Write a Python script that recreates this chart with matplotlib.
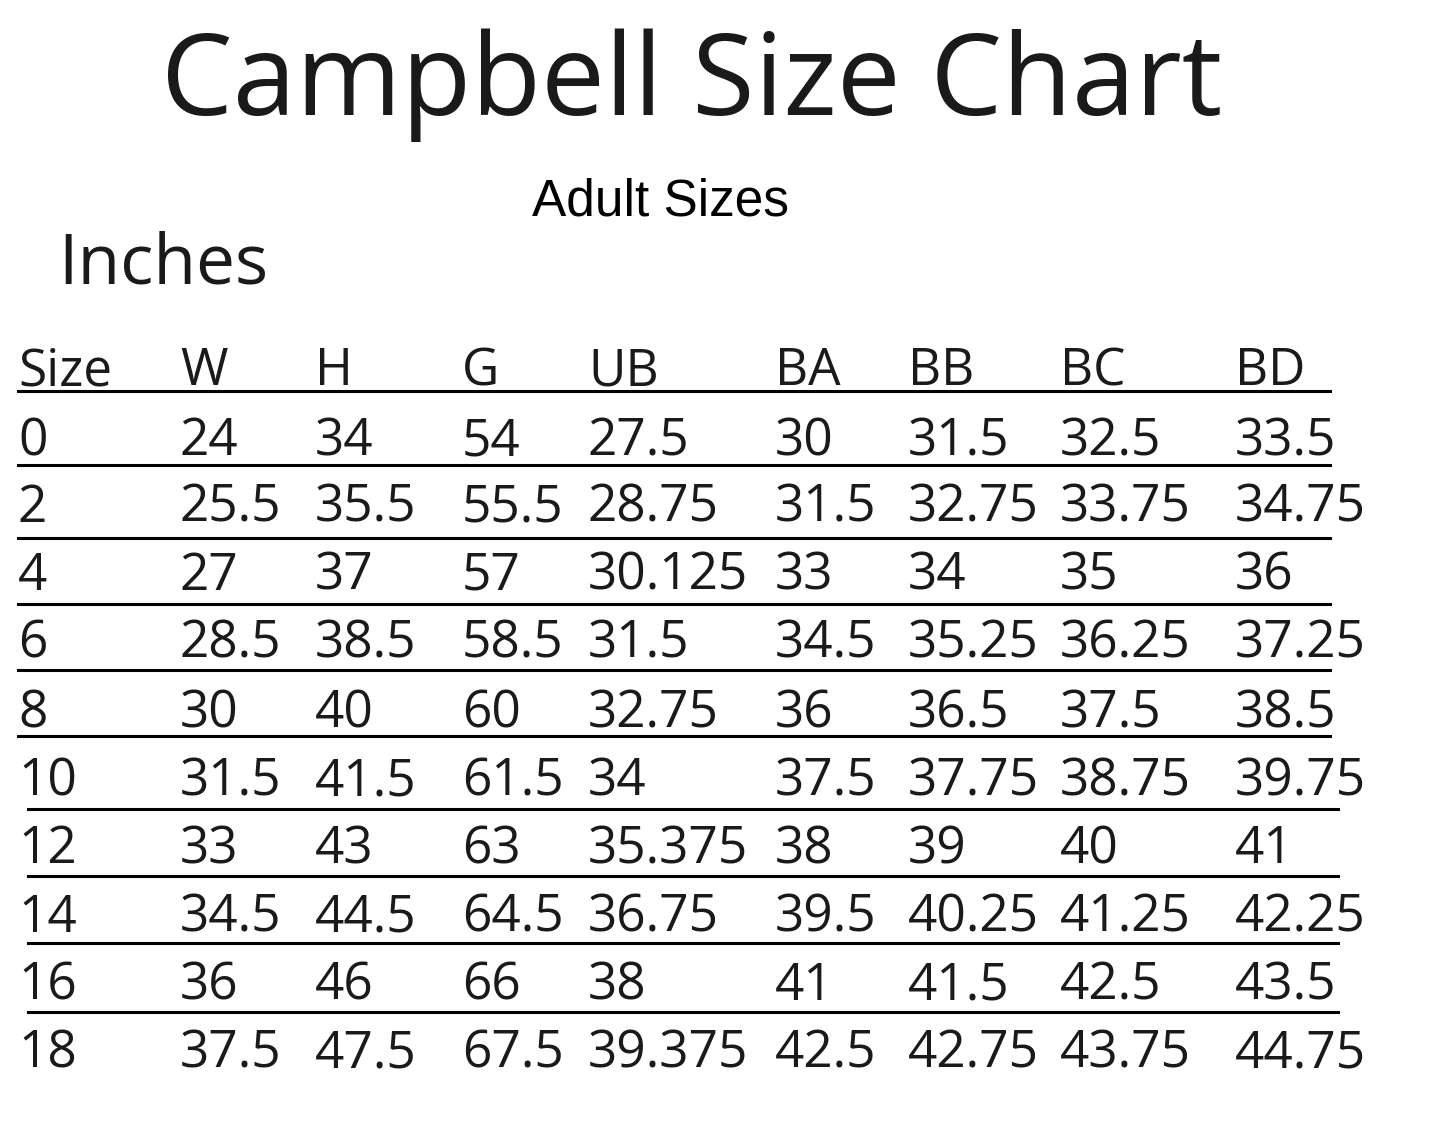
import matplotlib
matplotlib.use('Agg')
import matplotlib.pyplot as plt

columns = ['Size', 'W', 'H', 'G', 'UB', 'BA', 'BB', 'BC', 'BD']
rows = [
    ['0', '24', '34', '54', '27.5', '30', '31.5', '32.5', '33.5'],
    ['2', '25.5', '35.5', '55.5', '28.75', '31.5', '32.75', '33.75', '34.75'],
    ['4', '27', '37', '57', '30.125', '33', '34', '35', '36'],
    ['6', '28.5', '38.5', '58.5', '31.5', '34.5', '35.25', '36.25', '37.25'],
    ['8', '30', '40', '60', '32.75', '36', '36.5', '37.5', '38.5'],
    ['10', '31.5', '41.5', '61.5', '34', '37.5', '37.75', '38.75', '39.75'],
    ['12', '33', '43', '63', '35.375', '38', '39', '40', '41'],
    ['14', '34.5', '44.5', '64.5', '36.75', '39.5', '40.25', '41.25', '42.25'],
    ['16', '36', '46', '66', '38', '41', '41.5', '42.5', '43.5'],
    ['18', '37.5', '47.5', '67.5', '39.375', '42.5', '42.75', '43.75', '44.75'],
]

# layout in pixels
col_x = [18, 180, 315, 462, 588, 775, 908, 1060, 1235]
header_y = 385
row_y = [455, 522, 590, 657, 727, 795, 863, 932, 1000, 1068]
line_y = [391, 465, 538, 604, 670, 736, 809, 876, 943, 1012]

fig = plt.figure(figsize=(14.45, 11.4), dpi=100)
ax = fig.add_axes([0, 0, 1, 1])
ax.set_xlim(0, 1445)
ax.set_ylim(1140, 0)
ax.axis('off')

font = 'Open Sans'
ax.text(692, 115, 'Campbell Size Chart', fontsize=82, family=font,
        ha='center', va='baseline', color='#1a1a1a')
ax.text(660, 215, 'Adult Sizes', fontsize=37, family='Liberation Sans',
        ha='center', va='baseline', color='black')
ax.text(58, 283, 'Inches', fontsize=50, family=font, va='baseline', color='#1a1a1a')

for x, name in zip(col_x, columns):
    ax.text(x, header_y, name, fontsize=37, family=font, va='baseline', color='#1a1a1a')
for y, row in zip(row_y, rows):
    for x, val in zip(col_x, row):
        ax.text(x, y, val, fontsize=37, family=font, va='baseline', color='#1a1a1a')

for i, y in enumerate(line_y):
    x0, x1 = (18, 1330) if i < 6 else (28, 1338)
    ax.plot([x0, x1], [y, y], color='black', lw=2.2)

fig.savefig('out.png', dpi=100)
